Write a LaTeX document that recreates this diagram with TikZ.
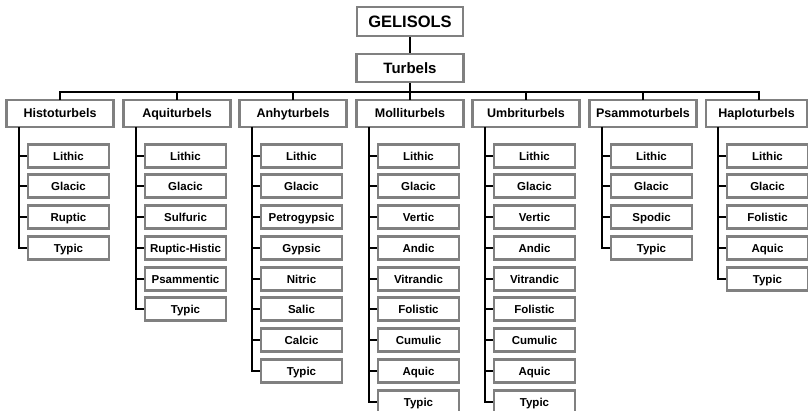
\documentclass[tikz,border=0pt]{standalone}
\usepackage{fontspec}
\setmainfont{Liberation Sans}
\definecolor{boxgray}{RGB}{128,128,128}
\begin{document}
\begin{tikzpicture}[x=1pt,y=-1pt,
  box/.style={draw=boxgray,line width=2.2pt,fill=white,inner sep=0pt,text depth=0pt},
  topbox/.style={box,minimum width=106pt,minimum height=29pt,text height=11.8pt,font=\fontsize{16.5}{18}\selectfont\bfseries},
  turbbox/.style={box,minimum width=107pt,minimum height=28pt,text height=10.7pt,font=\fontsize{15}{17}\selectfont\bfseries},
  grpbox/.style={box,minimum width=107pt,minimum height=27pt,text height=9pt,font=\fontsize{12.5}{14}\selectfont\bfseries},
  kidbox/.style={box,minimum width=81pt,minimum height=23pt,text height=8.2pt,font=\fontsize{11.5}{13}\selectfont\bfseries},
  conn/.style={line width=2pt,black}]
\useasboundingbox (0,0) rectangle (808,411);
\clip (0,0) rectangle (808,411);
\coordinate (bar) at (410,92);
\node[topbox] (gel) at (410,21.5) {GELISOLS};
\node[turbbox] (turb) at (410,68) {Turbels};
\draw[conn] (gel.south) -- (turb.north);
\def\centers{{60,177,293,410,526,643,759}}
\def\kidys{{156,186,217,248,279,309,340,371,402}}
\foreach \name [count=\i from 0] in {Histoturbels,Aquiturbels,Anhyturbels,Molliturbels,Umbriturbels,Psammoturbels,Haploturbels}{
  \pgfmathsetmacro{\cx}{\centers[\i]}
  \ifnum\i=6
    \node[grpbox,minimum width=101pt] (g\i) at (756.5,113.5) {\name};
  \else
    \node[grpbox] (g\i) at (\cx,113.5) {\name};
  \fi
  \coordinate (gc\i) at (\cx,100);
  \draw[conn] (turb.south) -- (turb.south |- bar) -| (gc\i);
}
\def\drawkids#1#2{%
  \pgfmathsetmacro{\cx}{\centers[#1]}%
  \coordinate (v#1) at (\cx-41,127);
  \foreach \kid [count=\k from 0] in {#2}{
    \pgfmathsetmacro{\ky}{\kidys[\k]}
    \node[kidbox] (k#1-\k) at (\cx+8.5,\ky) {\kid};
    \draw[conn] (v#1 |- k#1-\k.west) -- (k#1-\k.west);
    \xdef\lastk{\k}
  }
  \draw[conn] (v#1) |- (k#1-\lastk.west);
}
\drawkids{0}{Lithic,Glacic,Ruptic,Typic}
\drawkids{1}{Lithic,Glacic,Sulfuric,Ruptic-Histic,Psammentic,Typic}
\drawkids{2}{Lithic,Glacic,Petrogypsic,Gypsic,Nitric,Salic,Calcic,Typic}
\drawkids{3}{Lithic,Glacic,Vertic,Andic,Vitrandic,Folistic,Cumulic,Aquic,Typic}
\drawkids{4}{Lithic,Glacic,Vertic,Andic,Vitrandic,Folistic,Cumulic,Aquic,Typic}
\drawkids{5}{Lithic,Glacic,Spodic,Typic}
\drawkids{6}{Lithic,Glacic,Folistic,Aquic,Typic}
\end{tikzpicture}
\end{document}
